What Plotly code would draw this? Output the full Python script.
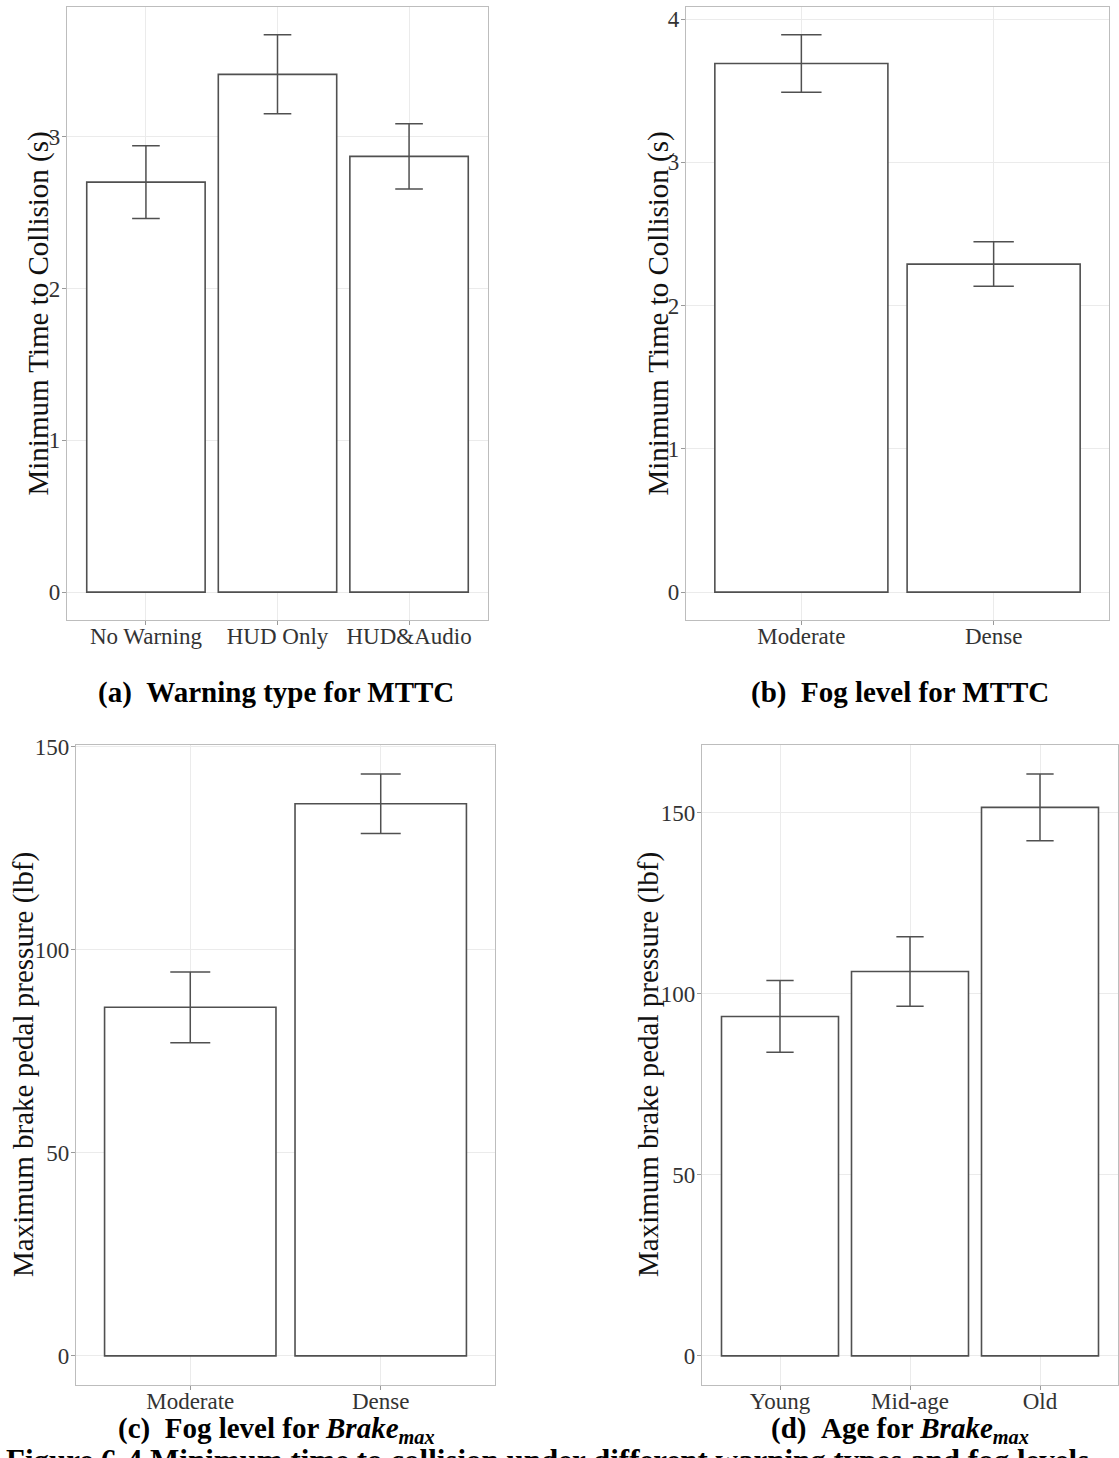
import plotly.graph_objects as go

# ---- data -------------------------------------------------------------
warning_types = ["No Warning", "HUD Only", "HUD&Audio"]
mttc_warning = [2.70, 3.41, 2.87]
mttc_warning_se = [0.24, 0.26, 0.215]

fog_levels = ["Moderate", "Dense"]
mttc_fog = [3.69, 2.29]
mttc_fog_se = [0.20, 0.155]

brake_fog = [85.8, 135.9]
brake_fog_se = [8.7, 7.3]

age_groups = ["Young", "Mid-age", "Old"]
brake_age = [93.7, 106.1, 151.4]
brake_age_se = [9.9, 9.6, 9.2]

ytitle_mttc = "Minimum Time to Collision (s)"
ytitle_brake = "Maximum brake pedal pressure (lbf)"

captions = [
    "(a)\u00a0\u00a0Warning type for MTTC",
    "(b)\u00a0\u00a0Fog level for MTTC",
    "(c)\u00a0\u00a0Fog level for <i>Brake</i><sub><i>max</i></sub>",
    "(d)\u00a0\u00a0Age for <i>Brake</i><sub><i>max</i></sub>",
]
figure_caption = "Figure 6-4 Minimum time to collision under different warning types and fog levels"

# ---- layout geometry (pixels) ----------------------------------------
W, H = 1119, 1458
SERIF = "Liberation Serif, Times New Roman, serif"
BAR_LINE = "#505050"
FRAME = "#BDBDBD"
GRID = "#EBEBEB"


def px_x(x):
    return x / W


def px_y(y):
    return 1 - y / H


panels = [
    # (categories, values, errors, x px span, y px span, dtick, y title, title x px, caption centre)
    (warning_types, mttc_warning, mttc_warning_se, (67, 488), (7, 620), 1, ytitle_mttc, 38, (276, 692)),
    (fog_levels, mttc_fog, mttc_fog_se, (686, 1109), (7, 620), 1, ytitle_mttc, 658, (900, 692)),
    (fog_levels, brake_fog, brake_fog_se, (76, 495), (745, 1385), 50, ytitle_brake, 23, (276, 1430)),
    (age_groups, brake_age, brake_age_se, (702, 1118), (745, 1385), 50, ytitle_brake, 648, (900, 1430)),
]

fig = go.Figure()
annotations = []

for i, (cats, vals, errs, xs, ys, dtick, ytitle, tx, cap) in enumerate(panels):
    n = i + 1
    suffix = "" if n == 1 else str(n)
    n_cat = len(cats)
    cat_px = (xs[1] - xs[0]) / (n_cat - 1 + 1.2)

    fig.add_trace(go.Bar(
        x=cats, y=vals,
        width=0.9,
        marker=dict(color="white", line=dict(color=BAR_LINE, width=1.6)),
        error_y=dict(type="data", array=errs, visible=True,
                     color=BAR_LINE, thickness=1.5, width=0.105 * cat_px),
        xaxis="x" + suffix, yaxis="y" + suffix,
        showlegend=False, hoverinfo="skip",
    ))

    # ggplot-style 5% expansion of the data range
    hi = max(v + e for v, e in zip(vals, errs))
    pad = 0.05 * hi

    axis_common = dict(
        showline=True, mirror=True, linecolor=FRAME, linewidth=1.2,
        showgrid=True, gridcolor=GRID, gridwidth=1,
        zeroline=False,
        ticks="outside", ticklen=4, tickcolor="#9A9A9A", tickwidth=1,
        tickfont=dict(family=SERIF, size=23, color="#333333"),
        automargin=False,
    )
    fig.update_layout(**{
        "xaxis" + suffix: dict(
            axis_common,
            domain=[px_x(xs[0]), px_x(xs[1])],
            anchor="y" + suffix,
            type="category",
            range=[-0.6, n_cat - 1 + 0.6],
            ticklabelstandoff=-9,
        ),
        "yaxis" + suffix: dict(
            axis_common,
            domain=[px_y(ys[1]), px_y(ys[0])],
            anchor="x" + suffix,
            range=[-pad, hi + pad],
            dtick=dtick, tick0=0,
            ticklabelstandoff=-3,
        ),
    })

    annotations.append(dict(
        text=ytitle, textangle=-90,
        x=px_x(tx), y=px_y((ys[0] + ys[1]) / 2),
        xref="paper", yref="paper", xanchor="center", yanchor="middle",
        showarrow=False, font=dict(family=SERIF, size=29, color="#111111"),
    ))
    annotations.append(dict(
        text="<b>" + captions[i] + "</b>",
        x=px_x(cap[0]), y=px_y(cap[1]),
        xref="paper", yref="paper", xanchor="center", yanchor="middle",
        showarrow=False, font=dict(family=SERIF, size=29, color="black"),
    ))

annotations.append(dict(
    text="<b>" + figure_caption + "</b>",
    x=px_x(4), y=px_y(1441),
    xref="paper", yref="paper", xanchor="left", yanchor="top",
    showarrow=False, font=dict(family=SERIF, size=31, color="black"),
))

fig.update_layout(
    width=W, height=H,
    margin=dict(l=0, r=0, t=0, b=0, autoexpand=False),
    paper_bgcolor="white", plot_bgcolor="white",
    bargap=0.1,
    annotations=annotations,
)

fig.write_html("out.html")
